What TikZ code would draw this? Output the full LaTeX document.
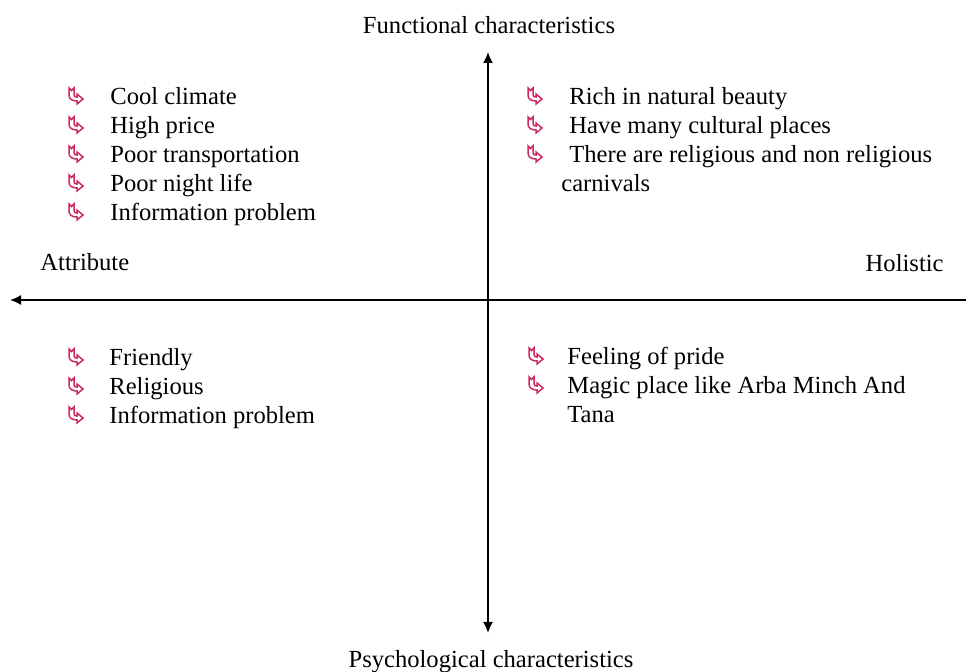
\documentclass[tikz,border=0pt]{standalone}
\usepackage{fontspec}
\setmainfont{Liberation Serif}
\usetikzlibrary{arrows.meta, positioning}

\definecolor{bulletred}{RGB}{204,40,100}

\begin{document}
\begin{tikzpicture}[x=0.5pt, y=-0.5pt, >={Latex[length=5.5pt,width=5pt]}]
 % We define the styles for the axes, the texts and the bullets
 \tikzset{
axis/.style = {draw, thick, line width=0.8pt, black},
item/.style = {anchor=base west, inner sep=0pt, align=left, font=\fontsize{12.3}{14.5}\selectfont},
axislabel/.style = {inner sep=0pt, font=\fontsize{12.3}{14.5}\selectfont},
bulletline/.style = {draw=bulletred, line width=0.75pt, line join=miter},
hookbullet/.pic = {
  \draw[bulletline] (0,0) -- (2.5,2.5) -- (5,0) -- (5,6.5)
    .. controls (5,8.5) and (6,9) .. (8,9) -- (8,6) -- (14,11) -- (8,16) -- (8,13)
    .. controls (3,13) and (0,11) .. (0,7) -- cycle;
},
}
 \useasboundingbox (0,0) rectangle (966,672);
 \clip (0,0) rectangle (966,672);

 % Axis end points
 \coordinate (north) at (488,52);
 \coordinate (south) at (488,633);
 \coordinate (west) at (10,300);
 \coordinate (east) at (977,300);

 % Axes
 \draw [axis, <->] (south) -- (north);
 \draw [axis, <->] (west) -- (east);

 % Axis labels
 \node [axislabel, anchor=base] (functional) at (489,34) {Functional characteristics};
 \node [axislabel, anchor=base] (psychological) at (491,668) {Psychological characteristics};
 \node [axislabel, anchor=base west] (attribute) at (40,271) {Attribute};
 \node [axislabel, anchor=base east] (holistic) at (944,272) {Holistic};

 % Functional / attribute quarter
 \node [item] (fa1) at (110,105) {Cool climate};
 \node [item] (fa2) at (110,134) {High price};
 \node [item] (fa3) at (110,163) {Poor transportation};
 \node [item] (fa4) at (110,192) {Poor night life};
 \node [item] (fa5) at (110,221) {Information problem};

 % Functional / holistic quarter (base of a two line node is its last line)
 \node [item] (fh1) at (569,105) {Rich in natural beauty};
 \node [item] (fh2) at (569,134) {Have many cultural places};
 \node [item] (fh3) at (561,192) {\hspace*{4pt}There are religious and non religious\\carnivals};

 % Psychological / attribute quarter
 \node [item] (pa1) at (109,366) {Friendly};
 \node [item] (pa2) at (109,395) {Religious};
 \node [item] (pa3) at (109,424) {Information problem};

 % Psychological / holistic quarter
 \node [item] (ph1) at (567,365) {Feeling of pride};
 \node [item] (ph2) at (567,423) {Magic place like Arba Minch And\\Tana};

 % Bullets in front of the items
 \pic at ([shift={(-41,-17)}]fa1.base west) {hookbullet};
 \pic at ([shift={(-41,-17)}]fa2.base west) {hookbullet};
 \pic at ([shift={(-41,-17)}]fa3.base west) {hookbullet};
 \pic at ([shift={(-41,-17)}]fa4.base west) {hookbullet};
 \pic at ([shift={(-41,-17)}]fa5.base west) {hookbullet};
 \pic at ([shift={(-41,-17)}]fh1.base west) {hookbullet};
 \pic at ([shift={(-41,-17)}]fh2.base west) {hookbullet};
 \pic at ([shift={(-33,-46)}]fh3.base west) {hookbullet};
 \pic at ([shift={(-40,-17)}]pa1.base west) {hookbullet};
 \pic at ([shift={(-40,-17)}]pa2.base west) {hookbullet};
 \pic at ([shift={(-40,-17)}]pa3.base west) {hookbullet};
 \pic at ([shift={(-38,-17)}]ph1.base west) {hookbullet};
 \pic at ([shift={(-38,-46)}]ph2.base west) {hookbullet};

\end{tikzpicture}
\end{document}
